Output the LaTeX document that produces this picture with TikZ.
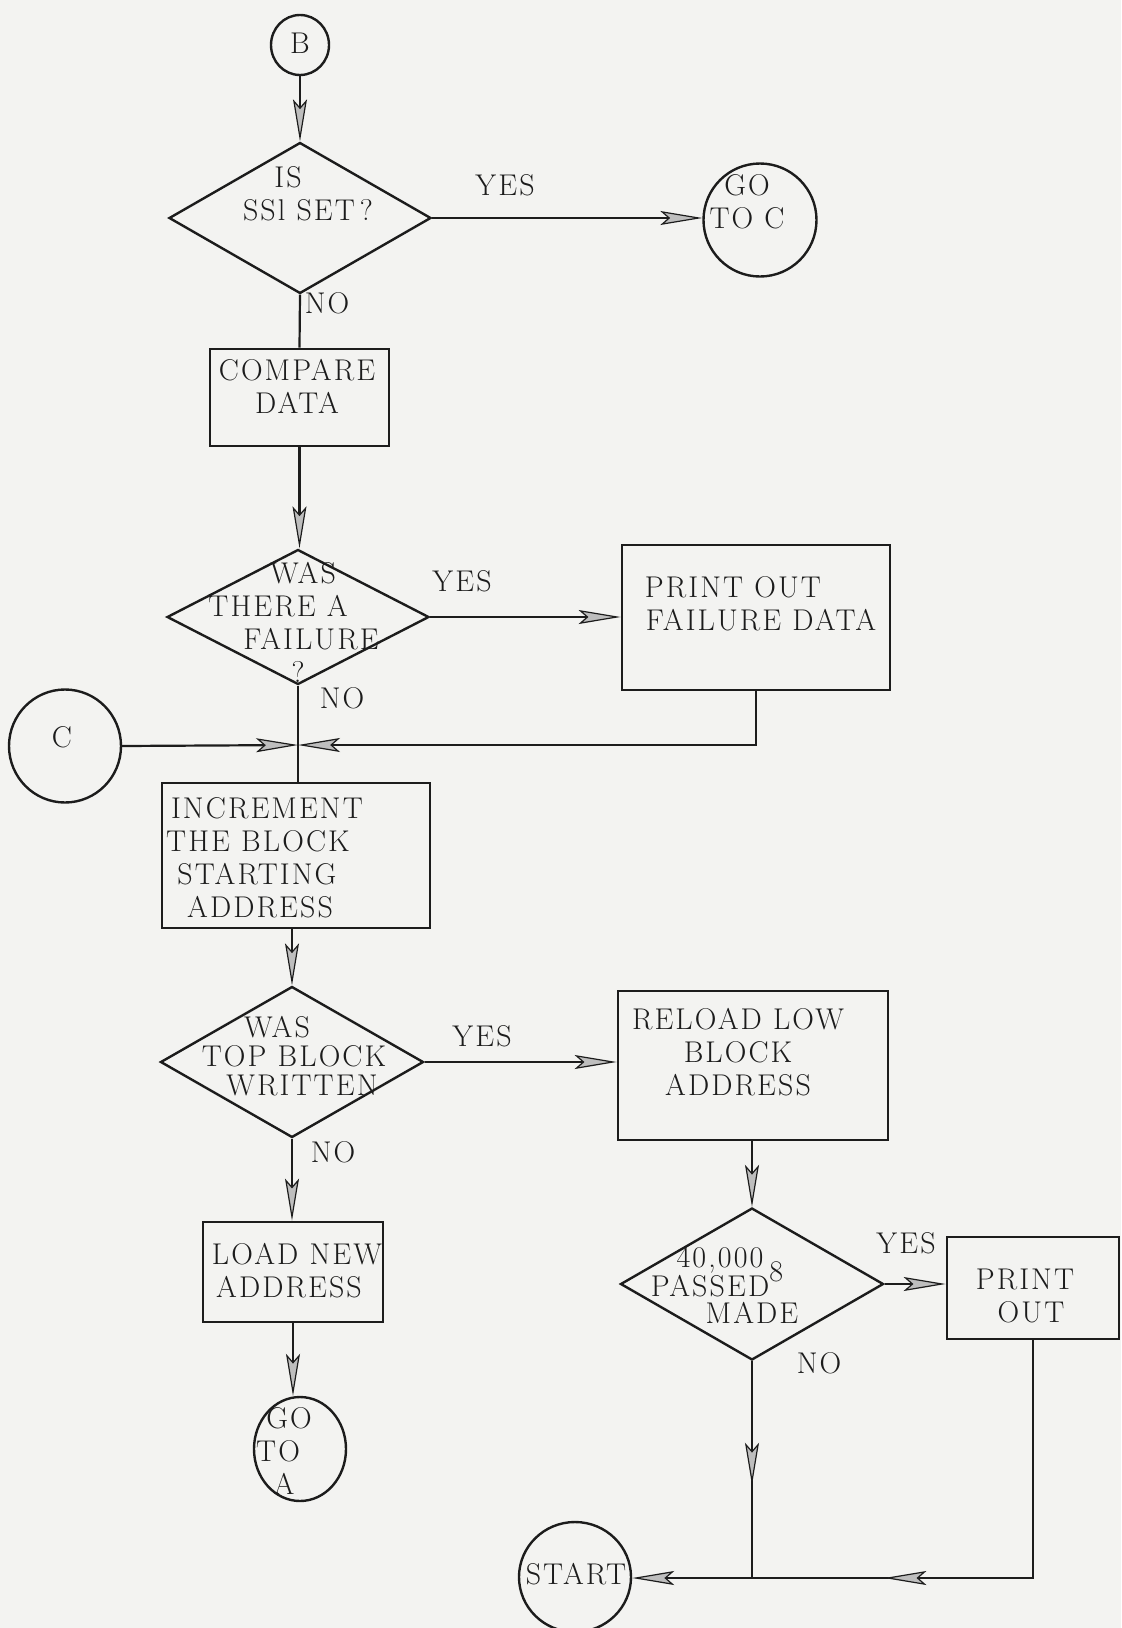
\documentclass[tikz,border=0pt]{standalone}
\usepackage{fontspec}
\setmainfont{Latin Modern Roman}[LetterSpace=7]
\usetikzlibrary{shapes.geometric,arrows.meta,decorations.markings}
\definecolor{paper}{RGB}{243,243,241}
\definecolor{ink}{RGB}{28,28,28}
\definecolor{headfill}{RGB}{190,190,190}
\newcommand\sft[1]{\rule{#1}{0pt}}
\begin{document}
\begin{tikzpicture}[x=0.5pt,y=-0.5pt,
  txt/.style={inner sep=0pt, align=center, text=ink, font=\fontsize{15}{16.5}\selectfont},
  procbox/.style={draw=ink, line width=1.4pt, rectangle, inner sep=0pt},
  decis/.style={draw=ink, line width=1.2pt, diamond, inner sep=0pt},
  conn/.style={draw=ink, line width=1.2pt, ellipse, inner sep=0pt},
  ln/.style={draw=ink, line width=1.1pt},
  headtip/.tip={Stealth[length=21pt,width=7pt,inset=4pt,fill=headfill,line width=0.6pt]},
  arr/.style={ln, -headtip},
  midarr/.style={ln, postaction={decorate}, decoration={markings, mark=at position #1 with {\arrow{headtip}}}},
]
\useasboundingbox (0,0) rectangle (1121,1628);
\fill[paper] (0,0) rectangle (1121,1628);

% ---- shapes ----
\node[conn, minimum width=29pt, minimum height=30pt] (b) at (300,45) {};
\node[decis, minimum width=131pt, minimum height=75.5pt] (d1) at (300,218) {};
\node[conn, minimum width=56.5pt, minimum height=56.5pt] (goc) at (760,220) {};
\node[procbox, minimum width=89.5pt, minimum height=48.5pt] (cmp) at (299.5,397.5) {};
\node[decis, minimum width=131pt, minimum height=67.5pt] (d2) at (298,617) {};
\node[procbox, minimum width=134pt, minimum height=72.5pt] (pf) at (756,617.5) {};
\node[conn, minimum width=56pt, minimum height=56.5pt] (c) at (65,746) {};
\coordinate (j1) at (298,745);
\node[procbox, minimum width=134pt, minimum height=72.5pt] (inc) at (296,855.5) {};
\node[decis, minimum width=131.5pt, minimum height=75.5pt] (d3) at (292,1062) {};
\node[procbox, minimum width=135pt, minimum height=74.5pt] (rl) at (753,1065.5) {};
\node[procbox, minimum width=90pt, minimum height=50pt] (ld) at (293,1272) {};
\node[conn, minimum width=46pt, minimum height=52pt] (goa) at (300,1449) {};
\node[decis, minimum width=131.5pt, minimum height=76pt] (d4) at (752,1284) {};
\node[procbox, minimum width=86pt, minimum height=51pt] (po) at (1033,1288) {};
\node[conn, minimum width=56pt, minimum height=55pt] (start) at (575,1577) {};
\coordinate (j2) at (752,1578);

% ---- texts ----
\node[txt] (tb) at (300,43) {B};
\node[txt] (t1) at (298,194) {IS\sft{10pt}\\\sft{10pt}SSl SET\,?};
\node[txt] (yes1) at (505,185) {YES};
\node[txt] (tgoc) at (747,202) {GO\\TO C};
\node[txt] (no1) at (327,303) {NO};
\node[txt] (tcmp) at (297,386.5) {COMPARE\\DATA};
\node[txt] (t2) at (298,622) {\sft{5pt}WAS\\THERE A\sft{20pt}\\\sft{13pt}FAILURE\\?};
\node[txt] (yes2) at (462,581) {YES};
\node[txt] (tpf) at (747,603.5) {PRINT OUT\sft{14pt}\\\sft{14pt}FAILURE DATA};
\node[txt] (no2) at (342,698) {NO};
\node[txt] (tc) at (62,737) {C};
\node[txt] (tinc) at (260,858) {\sft{7pt}INCREMENT\\THE BLOCK\sft{2pt}\\STARTING\sft{3pt}\\ADDRESS};
\node[txt, font=\fontsize{15}{14.5}\selectfont] (t3) at (294,1056) {WAS\sft{17pt}\\TOP BLOCK\\\sft{8pt}WRITTEN};
\node[txt] (yes3) at (482,1036) {YES};
\node[txt] (trl) at (738,1052.5) {RELOAD LOW\\BLOCK\\ADDRESS};
\node[txt] (no3) at (333,1152) {NO};
\node[txt] (tld) at (293,1270.5) {\sft{4pt}LOAD NEW\\ADDRESS\sft{4pt}};
\node[txt] (tgoa) at (284,1451) {\sft{5pt}GO\\TO\sft{6pt}\\A};
\node[txt, font=\fontsize{15}{13.5}\selectfont] (t4) at (729,1285) {40,000\rlap{\kern3pt\smash{\raisebox{-7pt}{8}}}\sft{9pt}\\PASSED\sft{19pt}\\\sft{23pt}MADE};
\node[txt] (yes4) at (906,1243) {YES};
\node[txt] (tpo) at (1028,1296) {PRINT\sft{3pt}\\\sft{3pt}OUT};
\node[txt] (no4) at (819,1363) {NO};
\node[txt] (tst) at (576,1574) {START};

% ---- connectors ----
\draw[arr] (b.south) -- (d1.north);
\draw[arr] (d1.east) -- (d1.east -| goc.west);
\draw[ln] (d1.south) -- (cmp.north);
\draw[arr] (cmp.south) -- (cmp.south |- d2.north);
\draw[arr] (d2.east) -- (d2.east -| pf.west);
\draw[ln] (d2.south) -- (d2.south |- inc.north);
\draw[arr] (c.east) -- (j1);
\draw[arr] (pf.south) -- (pf.south |- j1) -- (j1);
\draw[arr] (inc.south -| d3.north) -- (d3.north);
\draw[arr] (d3.east) -- (d3.east -| rl.west);
\draw[arr] (d3.south) -- (d3.south |- ld.north);
\draw[arr] (ld.south) -- (ld.south |- goa.north);
\draw[arr] (rl.south -| d4.north) -- (d4.north);
\draw[arr] (d4.east) -- (d4.east -| po.west);
\draw[midarr=0.57] (d4.south) -- (j2);
\draw[arr, midarr=0.605] (po.south) -- (po.south |- j2) -- (start.east |- j2);
\end{tikzpicture}
\end{document}
